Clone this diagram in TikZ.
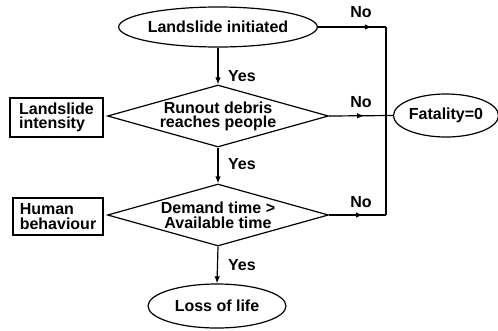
\documentclass[tikz,border=0pt]{standalone}
\usepackage{fontspec}
\setmainfont{Liberation Sans}
\usetikzlibrary{shapes.geometric,arrows.meta,decorations.markings}
\tikzset{
  base/.style={font=\fontsize{16}{14.5}\selectfont\bfseries, line width=1.2pt, draw=black, inner sep=0pt},
  term/.style={base, ellipse},
  decis/.style={base, diamond},
  infobox/.style={base, rectangle, align=left},
  dtext/.style={font=\fontsize{16}{14.5}\selectfont\bfseries, align=center, inner sep=0pt},
  lbl/.style={font=\fontsize{16}{14.5}\selectfont\bfseries, inner sep=0pt},
  flow/.style={line width=1.2pt, -{Latex[length=7pt,width=5.5pt]}},
  plain/.style={line width=1.2pt},
  midarrow/.style={line width=1.2pt, postaction={decorate, decoration={markings, mark=at position #1 with {\arrow{Latex[length=7pt,width=5.5pt]}}}}}
}
\begin{document}
\begin{tikzpicture}[x=1pt,y=-1pt]
\useasboundingbox (0,0) rectangle (498,330);
% nodes
\node[term, minimum width=180pt, minimum height=40pt] (init) at (218,27) {Landslide initiated};
\node[decis, minimum width=221pt, minimum height=62pt] (d1) at (218,116) {};
\node[dtext] (d1t) at (218,116.5) {Runout debris\\reaches people};
\node[decis, minimum width=221pt, minimum height=62pt] (d2) at (218,215) {};
\node[dtext] (d2t) at (218,215.5) {Demand time >\\Available time};
\node[term, minimum width=138pt, minimum height=44pt] (loss) at (217,306) {Loss of life};
\node[term, minimum width=100pt, minimum height=43pt] (fatal) at (446,115.5) {Fatality=0};
\node[infobox, minimum width=93pt, minimum height=39pt] (li) at (56.5,117.5) {Landslide\\intensity};
\node[infobox, minimum width=90pt, minimum height=37pt] (hb) at (58,216.5) {Human\\behaviour};
\coordinate (j1) at (386,27);
\coordinate (j3) at (386,215);
% connectors
\draw[flow] (init) -- (d1.north);
\draw[flow] (d1.south) -- (d2.north);
\draw[flow] (d2.south) -- (loss.north);
\draw[midarrow=54pt] (init.east) -- (j1);
\draw[plain] (j1) -- (j3);
\draw[midarrow=35pt] (d1.east) -- (fatal.west);
\draw[midarrow=34pt] (d2.east) -- (j3);
% labels
\node[lbl, anchor=west] (y1) at (228,76) {Yes};
\node[lbl, anchor=west] (y2) at (228,164) {Yes};
\node[lbl, anchor=west] (y3) at (228,265) {Yes};
\node[lbl] (n1) at (361,12) {No};
\node[lbl] (n2) at (361,102) {No};
\node[lbl] (n3) at (361,202) {No};
\end{tikzpicture}
\end{document}
